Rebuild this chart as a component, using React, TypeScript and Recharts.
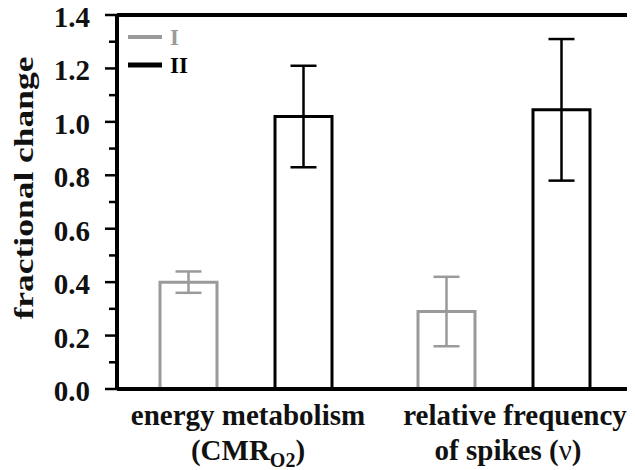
import {Bar, BarChart, ErrorBar, Legend, ReferenceLine, XAxis, YAxis} from 'recharts';

const categories = ['energy metabolism', 'relative frequency'];
const seriesNames = ['I', 'II'];
const seriesColors = ['#9a9a9a', '#000000'];
const valuesI = [0.40, 0.29];
const valuesII = [1.02, 1.045];
const errorsI = [0.04, 0.13];
const errorsII = [0.19, 0.265];
const yTicks = [0, 0.1, 0.2, 0.3, 0.4, 0.5, 0.6, 0.7, 0.8, 0.9, 1.0, 1.1, 1.2, 1.3, 1.4];
const majorTicks = [0, 0.2, 0.4, 0.6, 0.8, 1.0, 1.2, 1.4];

const data = categories.map((name, i) => ({
    name,
    I: valuesI[i],
    II: valuesII[i],
    errI: errorsI[i],
    errII: errorsII[i],
}));

const serif = {fontFamily: 'Liberation Serif', fontWeight: 700};

const YTick = (props: any) => {
    const {x, y, payload} = props;
    const major = majorTicks.some(t => Math.abs(t - payload.value) < 1e-6);
    return (
        <g>
            <line x1={x - (major ? 12 : 8)} x2={x} y1={y} y2={y} stroke="#000" strokeWidth={2.5} />
            {major && (
                <text x={x - 27} y={y} dy={12} textAnchor="end" style={serif} fontSize={29} fill="#111">
                    {payload.value.toFixed(1)}
                </text>
            )}
        </g>
    );
};

const XTick = (props: any) => {
    const {x, y, payload} = props;
    const first = payload.index === 0;
    return (
        <g style={serif} fontSize={29} fill="#111">
            <text x={first ? x + 2 : x + 11} y={y + 34} textAnchor="middle">{payload.value}</text>
            {first ? (
                <text x={x + 2} y={y + 69} textAnchor="middle">
                    <tspan>(CMR</tspan>
                    <tspan dy={7} fontSize={20}>O2</tspan>
                    <tspan dy={-7}>)</tspan>
                </text>
            ) : (
                <text x={x + 4} y={y + 69} textAnchor="middle">
                    <tspan>of spikes (</tspan>
                    <tspan style={{fontWeight: 400}}>ν</tspan>
                    <tspan>)</tspan>
                </text>
            )}
        </g>
    );
};

const LegendBox = () => (
    <svg width={100} height={60} style={{overflow: 'visible'}}>
        {seriesNames.map((n, i) => (
            <g key={n}>
                <line x1={2} x2={36} y1={10 + i * 28} y2={10 + i * 28} stroke={seriesColors[i]} strokeWidth={i === 0 ? 4 : 5} />
                <text x={44} y={10 + i * 28} dy={8} style={serif} fontSize={23} fill={seriesColors[i]}>
                    {n}
                </text>
            </g>
        ))}
    </svg>
);

const YLabel = () => (
    <text
        x={24}
        y={188}
        transform="rotate(-90 24 188)"
        textAnchor="middle"
        dy={9}
        style={serif}
        fontSize={28}
        fill="#111"
        textLength={263}
        lengthAdjust="spacingAndGlyphs"
    >
        fractional change
    </text>
);

export default function App() {
    return (
        <div style={{marginLeft: -8, marginTop: -8}}>
            <BarChart
                width={635}
                height={470}
                data={data}
                barSize={57}
                barGap={58}
                margin={{top: 15, right: 2, left: 0, bottom: 0}}
            >
                <XAxis
                    dataKey="name"
                    height={81}
                    axisLine={{stroke: '#000', strokeWidth: 4}}
                    tickLine={false}
                    tickSize={0}
                    tick={<XTick />}
                    interval={0}
                />
                <YAxis
                    width={117}
                    domain={[0, 1.4]}
                    ticks={yTicks}
                    interval={0}
                    axisLine={{stroke: '#000', strokeWidth: 4}}
                    tickLine={false}
                    tickSize={0}
                    tickMargin={0}
                    tick={<YTick />}
                    label={<YLabel />}
                />
                <YAxis yAxisId="r" orientation="right" width={0} tick={false} tickLine={false} axisLine={{stroke: '#555', strokeWidth: 1.5}} />
                <ReferenceLine y={1.4} stroke="#000" strokeWidth={4} />
                <Legend
                    layout="horizontal"
                    verticalAlign="middle"
                    align="center"
                    wrapperStyle={{top: 27, left: 126, width: 100, height: 60}}
                    content={<LegendBox />}
                />
                <Bar dataKey="I" fill="#fff" stroke={seriesColors[0]} strokeWidth={3} isAnimationActive={false}>
                    <ErrorBar dataKey="errI" width={13} stroke={seriesColors[0]} strokeWidth={2.5} />
                </Bar>
                <Bar dataKey="II" fill="#fff" stroke={seriesColors[1]} strokeWidth={3} isAnimationActive={false}>
                    <ErrorBar dataKey="errII" width={13} stroke={seriesColors[1]} strokeWidth={2.5} />
                </Bar>
            </BarChart>
        </div>
    );
}
